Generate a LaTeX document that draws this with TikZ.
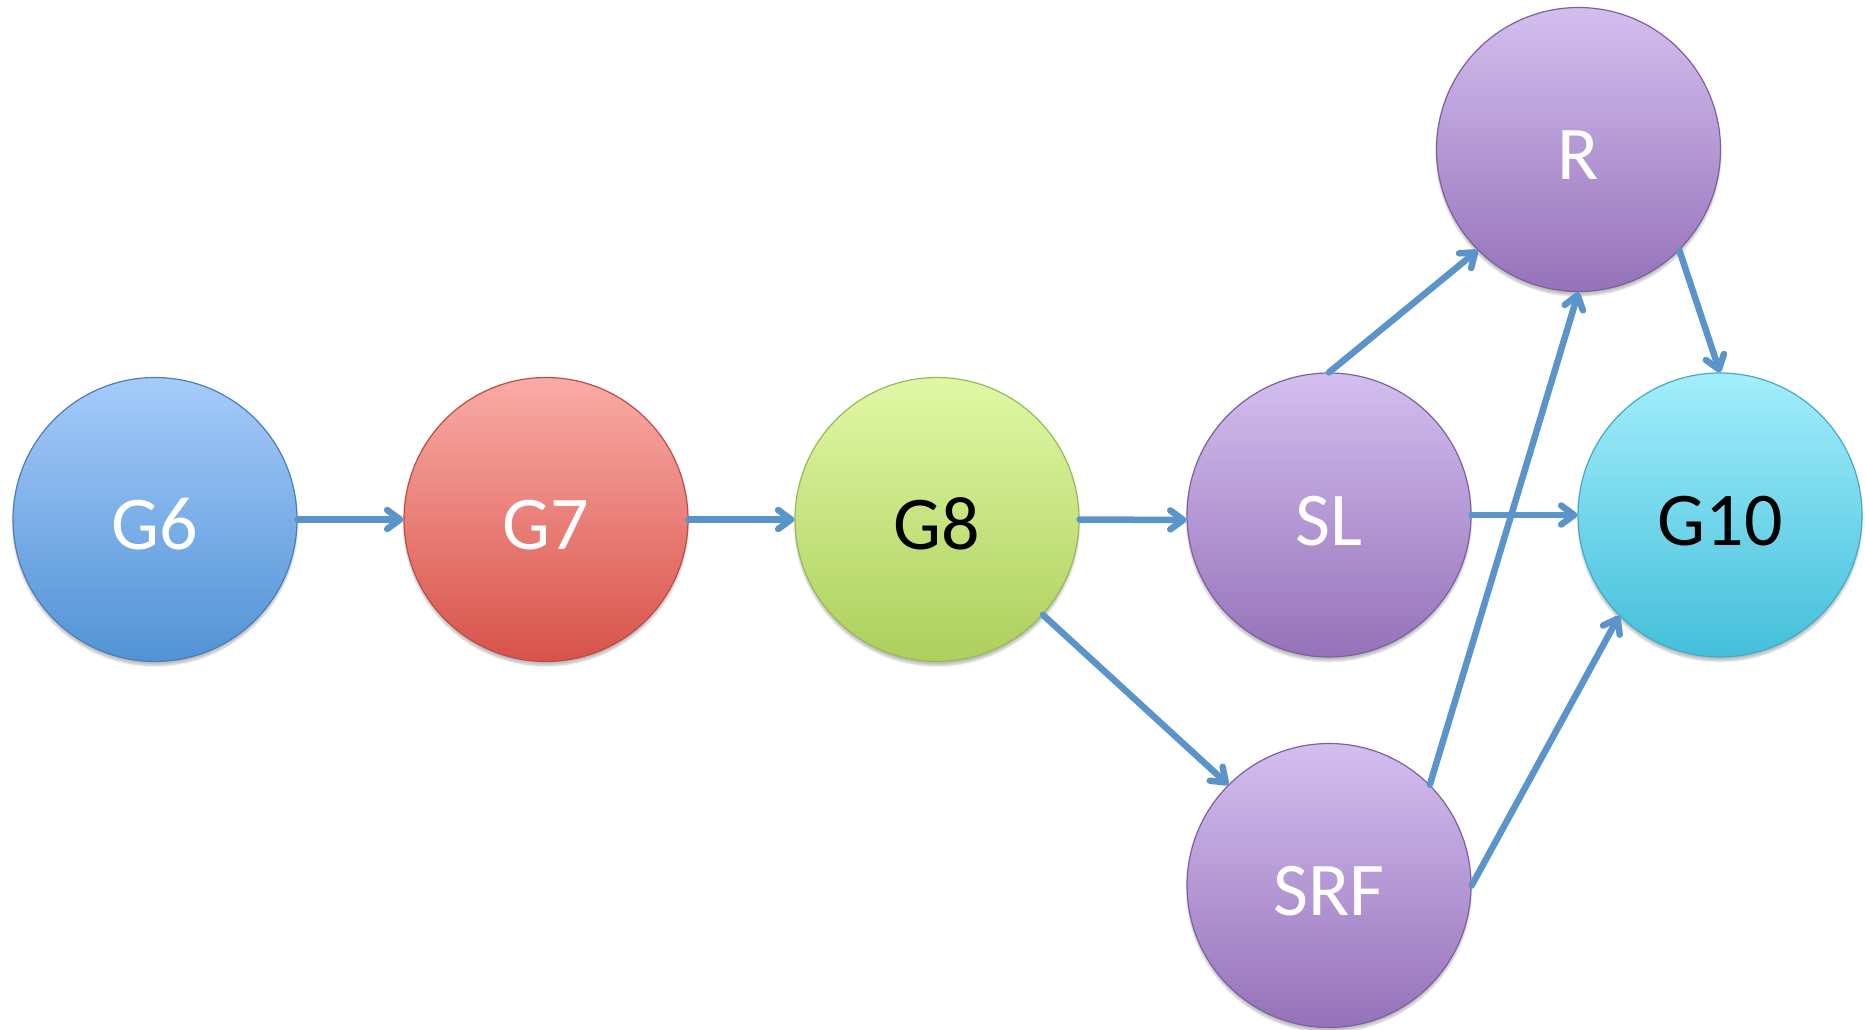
\documentclass[tikz,border=0pt]{standalone}
\usepackage{fontspec}
\setmainfont{Carlito}
\usetikzlibrary{arrows.meta,shadows.blur}
\definecolor{arr}{HTML}{5B94CB}
\tikzset{
  x=1pt,y=1pt,
  gnode/.style={circle, minimum size=284pt, inner sep=0pt, line width=1.2pt,
    font=\fontsize{76}{90}\selectfont, text height=60pt, text depth=0pt,
    blur shadow={shadow xshift=0pt, shadow yshift=-4pt, shadow opacity=25, shadow blur steps=6}},
  gblue/.style={gnode, draw=b0, top color=b1, bottom color=b2, text=white},
  gred/.style={gnode, draw=r0, top color=r1, bottom color=r2, text=white},
  ggreen/.style={gnode, draw=g0, top color=g1, bottom color=g2, text=black},
  gpurple/.style={gnode, draw=p0, top color=p1, bottom color=p2, text=white},
  gcyan/.style={gnode, draw=c0, top color=c1, bottom color=c2, text=black},
  conn/.style={draw=arr, line width=6.5pt, line cap=round,
    -{Straight Barb[round, length=13pt, width=19pt]}},
}
\definecolor{b0}{HTML}{4A7EBB}
\definecolor{b1}{HTML}{A6CBFB}
\definecolor{b2}{HTML}{5193D5}
\definecolor{r0}{HTML}{BE4B48}
\definecolor{r1}{HTML}{FAABA6}
\definecolor{r2}{HTML}{D8534A}
\definecolor{g0}{HTML}{98B954}
\definecolor{g1}{HTML}{E0F8A5}
\definecolor{g2}{HTML}{ADCF5C}
\definecolor{p0}{HTML}{7D60A0}
\definecolor{p1}{HTML}{D4BEEF}
\definecolor{p2}{HTML}{9572B9}
\definecolor{c0}{HTML}{46AAC5}
\definecolor{c1}{HTML}{A3EEFC}
\definecolor{c2}{HTML}{43BFDA}
\begin{document}
\begin{tikzpicture}
\useasboundingbox (0,0) rectangle (1865,-1029);
\node[gblue]   (G6)  at (155,-519.5)  {G6};
\node[gred]    (G7)  at (546,-519.5)  {G7};
\node[ggreen]  (G8)  at (937,-519.5)  {G8};
\node[gpurple] (SL)  at (1329,-515)   {SL};
\node[gcyan]   (G10) at (1720,-515)   {G10};
\node[gpurple] (R)   at (1578.5,-149.5) {R};
\node[gpurple] (SRF) at (1329,-885.5) {SRF};
\draw[conn] (G6.east) -- (G7.west);
\draw[conn] (G7.east) -- (G8.west);
\draw[conn] (G8.east) -- (SL.182);
\draw[conn] (SL.east) -- (G10.west);
\draw[conn] (SL.north) -- (R.225);
\draw[conn] (SRF.45) -- (R.south);
\draw[conn] (SRF.east) -- (G10.225);
\draw[conn] (R.-45) -- (G10.north);
\draw[conn] (G8.-42) -- (SRF.135);
\end{tikzpicture}
\end{document}
